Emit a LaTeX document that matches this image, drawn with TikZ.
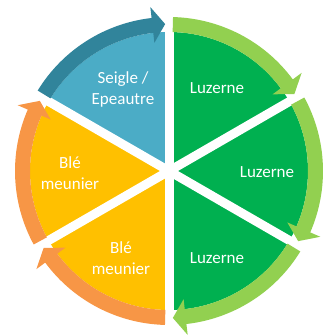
\documentclass[tikz,border=0pt]{standalone}
\usepackage{fontspec}
\setmainfont{Carlito}
\definecolor{wblue}{HTML}{4BACC6}
\definecolor{ablue}{HTML}{31849B}
\definecolor{wgreen}{HTML}{00B050}
\definecolor{agreen}{HTML}{92D050}
\definecolor{wyellow}{HTML}{FFC000}
\definecolor{aorange}{HTML}{F79646}
\newcommand\cyclearrow[3]{%
  \fill[#1] ({#2-1.5}:154pt) arc[start angle={#2-1.5}, end angle={#3+6.5}, radius=154pt]
    -- ({#3+6.5}:165pt) -- ({#3+1.5}:147pt) -- ({#3+6.5}:129pt) -- ({#3+6.5}:139pt)
    arc[start angle={#3+6.5}, end angle={#2-1.5}, radius=139pt] -- cycle;}
\newcommand\piewedge[3]{%
  \fill[#1] (0,0) -- (#2:139pt) arc[start angle=#2, end angle=#3, radius=139pt] -- cycle;}
\begin{document}
\begin{tikzpicture}[lbl/.style={text=white, font=\fontsize{17}{21}\selectfont, align=center}]
\useasboundingbox (-169pt,-165pt) rectangle (154pt,171pt);
\piewedge{wblue}{90}{150}
\piewedge{wgreen}{30}{90}
\piewedge{wgreen}{-30}{30}
\piewedge{wgreen}{-90}{-30}
\piewedge{wyellow}{150}{210}
\piewedge{wyellow}{210}{270}
\foreach \a in {90,30,-30} \draw[white, line width=9pt] (\a:150pt) -- (\a+180:150pt);
\cyclearrow{ablue}{150}{90}
\cyclearrow{agreen}{90}{30}
\cyclearrow{agreen}{30}{-30}
\cyclearrow{agreen}{-30}{-90}
\cyclearrow{aorange}{270}{210}
\cyclearrow{aorange}{210}{150}
\node[lbl] (se) at (-46pt,82pt) {Seigle /\\Epeautre};
\node[lbl] (l1) at (48pt,83pt) {Luzerne};
\node[lbl] (l2) at (98pt,-1pt) {Luzerne};
\node[lbl] (l3) at (48pt,-87pt) {Luzerne};
\node[lbl] (b1) at (-99pt,-2pt) {Blé\\meunier};
\node[lbl] (b2) at (-48pt,-87pt) {Blé\\meunier};
\end{tikzpicture}
\end{document}
